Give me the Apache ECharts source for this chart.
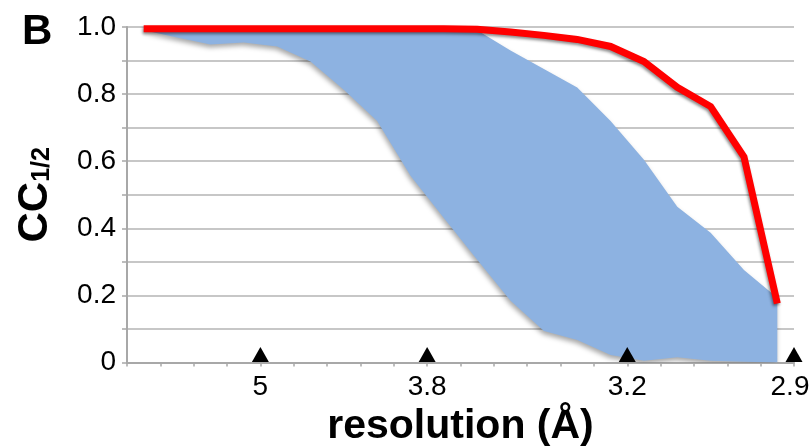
<!DOCTYPE html>
<html>
<head>
<meta charset="utf-8">
<script src="https://cdn.jsdelivr.net/npm/echarts@6/dist/echarts.min.js"></script>
<style>
  html, body { margin: 0; padding: 0; background: #fff; }
  #main { width: 810px; height: 448px; }
</style>
</head>
<body>
<div id="main"></div>
<script>
// resolution shells (20 bins, low -> high resolution)
var shells = [1, 2, 3, 4, 5, 6, 7, 8, 9, 10, 11, 12, 13, 14, 15, 16, 17, 18, 19, 20];

// CC1/2 of the full data set (red line)
var ccFull = [0.995, 0.995, 0.995, 0.995, 0.995, 0.995, 0.995, 0.995, 0.995, 0.995,
              0.993, 0.985, 0.975, 0.963, 0.942, 0.897, 0.82, 0.763, 0.613, 0.176];

// range of CC1/2 of the subsets (blue band)
var ccLow  = [0.99, 0.969, 0.948, 0.954, 0.942, 0.897, 0.813, 0.72, 0.557, 0.431,
              0.306, 0.184, 0.094, 0.067, 0.022, 0.005, 0.016, 0.005, 0.002, 0.0];
var ccHigh = [0.99, 0.99, 0.99, 0.99, 0.99, 0.99, 0.99, 0.99, 0.99, 0.99,
              0.99, 0.93, 0.875, 0.82, 0.72, 0.604, 0.464, 0.387, 0.276, 0.193];

// resolution marks (bin boundary index -> label in Å)
var markEdges  = [4, 9, 15, 20];
var markLabels = ['5', '3.8', '3.2', '2.9'];

var chart = echarts.init(document.getElementById('main'));

var bandWidth = ccHigh.map(function (v, i) { return +(v - ccLow[i]).toFixed(3); });
var labelOf = {};
markEdges.forEach(function (e, i) { labelOf[e] = markLabels[i]; });
var lastEdge = markEdges[markEdges.length - 1];

var font = '"Liberation Sans", Arial, sans-serif';

var option = {
  animation: false,
  grid: { left: 127, right: 16, top: 27, bottom: 85.5, containLabel: false, outerBoundsMode: 'none' },
  xAxis: [
    {
      type: 'category',
      data: shells,
      boundaryGap: true,
      position: 'bottom',
      show: false
    },
    {
      type: 'value',
      min: 0,
      max: 20,
      interval: 1,
      position: 'bottom',
      name: 'resolution (Å)',
      nameLocation: 'middle',
      nameGap: 43,
      nameTextStyle: { fontFamily: font, fontWeight: 'bold', fontSize: 41, color: '#000' },
      axisLine: { show: true, onZero: false, lineStyle: { color: '#a8a8a8', width: 2 } },
      axisTick: { show: true, length: 4, lineStyle: { color: '#a8a8a8', width: 1.5 } },
      splitLine: { show: false },
      axisLabel: {
        showMinLabel: true,
        showMaxLabel: true,
        margin: 11,
        fontFamily: font,
        fontSize: 28,
        color: '#000',
        rich: {
          last: { fontFamily: font, fontSize: 28, color: '#000', padding: [0, 8, 0, 0] }
        },
        formatter: function (v) {
          if (!labelOf[v]) return '';
          return v === lastEdge ? '{last|' + labelOf[v] + '}' : labelOf[v];
        }
      }
    }
  ],
  yAxis: {
    type: 'value',
    min: 0,
    max: 1,
    interval: 0.1,
    name: '{a|CC}{b|1/2}',
    nameLocation: 'middle',
    nameRotate: 90,
    nameGap: 71,
    nameTextStyle: {
      rich: {
        a: { fontFamily: font, fontWeight: 'bold', fontSize: 42, color: '#000' },
        b: { fontFamily: font, fontWeight: 'bold', fontSize: 25, color: '#000', padding: [14, 0, 0, 0] }
      }
    },
    axisLine: { show: true, lineStyle: { color: '#a8a8a8', width: 2 } },
    axisTick: { show: true, inside: false, length: 5, lineStyle: { color: '#a8a8a8', width: 1.5 } },
    splitLine: { show: true, lineStyle: { color: '#b4b4b4', width: 1.6 } },
    axisLabel: {
      margin: 11,
      fontFamily: font,
      fontSize: 28,
      color: '#000',
      formatter: function (v) {
        var t = Math.round(v * 10);
        if (t % 2 !== 0) return '';
        return t === 0 ? '0' : (t / 10).toFixed(1);
      }
    }
  },
  graphic: [
    {
      type: 'text',
      left: 22,
      top: 11,
      style: { text: 'B', fontFamily: font, fontWeight: 'bold', fontSize: 42, fill: '#000' }
    }
  ],
  series: [
    {
      name: 'low',
      type: 'line',
      xAxisIndex: 0,
      stack: 'band',
      data: ccLow,
      symbol: 'none',
      lineStyle: { width: 0 },
      areaStyle: { color: 'rgba(0,0,0,0)' },
      z: 2
    },
    {
      name: 'range',
      type: 'line',
      xAxisIndex: 0,
      stack: 'band',
      data: bandWidth,
      symbol: 'none',
      lineStyle: { width: 0 },
      areaStyle: {
        color: '#8db2e1',
        opacity: 1,
        shadowColor: 'rgba(0,0,0,0.35)',
        shadowBlur: 5,
        shadowOffsetX: -1,
        shadowOffsetY: 3
      },
      z: 3
    },
    {
      name: 'CC1/2',
      type: 'line',
      xAxisIndex: 0,
      data: ccFull,
      symbol: 'none',
      lineStyle: {
        color: '#ff0000',
        width: 7,
        cap: 'butt',
        join: 'miter',
        shadowColor: 'rgba(0,0,0,0.45)',
        shadowBlur: 3,
        shadowOffsetX: -1,
        shadowOffsetY: 2
      },
      z: 5
    },
    {
      name: 'marks',
      type: 'scatter',
      xAxisIndex: 1,
      data: markEdges.map(function (e) { return [e, 0]; }),
      symbol: 'triangle',
      symbolSize: [17, 15],
      symbolOffset: [0, -8],
      itemStyle: { color: '#000', opacity: 1 },
      clip: false,
      z: 6
    }
  ]
};

chart.setOption(option);
</script>
</body>
</html>
